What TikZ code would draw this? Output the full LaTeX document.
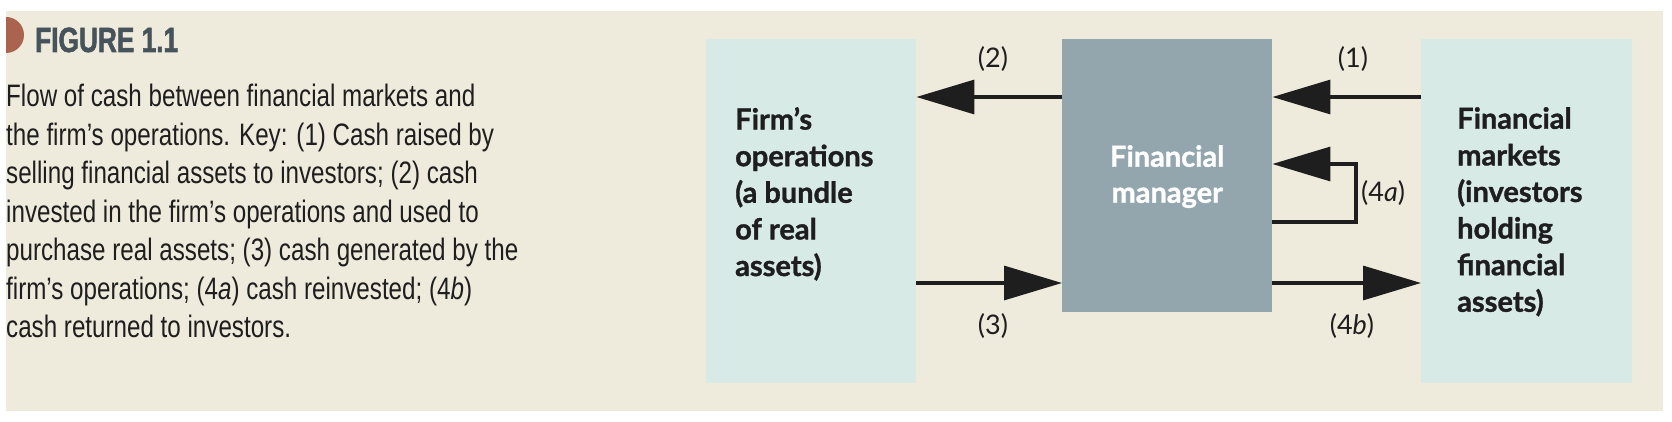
\documentclass[tikz,border=0pt]{standalone}
\usepackage{fontspec}
\usetikzlibrary{arrows.meta}
\setmainfont{Lato}
\newfontfamily\cellfont[BoldFeatures={FakeBold=1.2}]{Lato}
\newfontfamily\keyfont[FakeStretch=0.78]{Liberation Sans}
\newfontfamily\figfont[FakeStretch=0.75, BoldFeatures={FakeBold=1.5}]{Liberation Sans}
\definecolor{pagebeige}{HTML}{EEEADC}
\definecolor{cellblue}{HTML}{D7EAE6}
\definecolor{mgrgrey}{HTML}{93A6AE}
\definecolor{dotred}{HTML}{A9634F}
\definecolor{figslate}{HTML}{47535B}
\definecolor{inkblack}{HTML}{1E1E1E}
\begin{document}
\begin{tikzpicture}[x=1pt, y=-1pt,
  cell/.style={shape=rectangle, inner sep=0pt, anchor=north west},
  celltext/.style={inner sep=0pt, anchor=north west, align=left, text=inkblack,
    font=\cellfont\fontsize{29}{36.6}\selectfont\bfseries},
  flow/.style={draw=inkblack, line width=3.2pt, -{Triangle[length=58pt, width=34pt]}},
  lbl/.style={inner sep=0pt, text=inkblack, font=\fontsize{27}{30}\selectfont}]
\useasboundingbox (0,0) rectangle (1672,422);
\fill[white] (0,0) rectangle (1672,422);
\fill[pagebeige] (6,11) rectangle (1663,411);
% caption
\begin{scope}
\clip (6,0) rectangle (40,60);
\fill[dotred] (6,35) circle (18);
\end{scope}
\node[inner sep=0pt, anchor=base west, text=figslate, font=\figfont\fontsize{35}{40}\selectfont\bfseries] (fig) at (35,52) {FIGURE 1.1};
\node[inner sep=0pt, anchor=north west, align=left, text=inkblack, font=\keyfont\fontsize{31}{38.5}\selectfont] (key) at (6,84)
  {Flow of cash between financial markets and\\
   the firm’s operations. Key: (1) Cash raised by\\
   selling financial assets to investors; (2) cash\\
   invested in the firm’s operations and used to\\
   purchase real assets; (3) cash generated by the\\
   firm’s operations; (4\textit{a}) cash reinvested; (4\textit{b})\\
   cash returned to investors.};
% boxes
\node[cell, fill=cellblue, minimum width=210pt, minimum height=344pt] (firm) at (706,39) {};
\node[cell, fill=mgrgrey, minimum width=210pt, minimum height=273pt] (mgr) at (1062,39) {};
\node[cell, fill=cellblue, minimum width=211pt, minimum height=344pt] (mkt) at (1421,39) {};
\node[celltext] (firmtxt) at ([xshift=29pt, yshift=-68pt]firm.north west) {Firm’s\\operations\\(a bundle\\of real\\assets)};
\node[celltext] (mkttxt) at ([xshift=36pt, yshift=-68pt]mkt.north west) {Financial\\markets\\(investors\\holding\\financial\\assets)};
\node[inner sep=0pt, anchor=north, align=center, text=white, font=\cellfont\fontsize{29}{36}\selectfont\bfseries] (mgrtxt) at ([yshift=-106pt]mgr.north) {Financial\\manager};
% connectors
\coordinate (upper) at (0,97);
\coordinate (lower) at (0,283);
\coordinate (turn) at (1356,193);
\draw[flow] (mkt.west |- upper) -- (mgr.east |- upper);
\draw[flow] (mgr.west |- upper) -- (firm.east |- upper);
\draw[flow] (firm.east |- lower) -- (mgr.west |- lower);
\draw[flow] (mgr.east |- lower) -- (mkt.west |- lower);
\draw[flow] (mgr.east |- 0,222) -| (turn) |- (mgr.east |- 0,164);
% labels
\node[lbl] (l1) at (1353,59) {(1)};
\node[lbl] (l2) at (993,59) {(2)};
\node[lbl] (l3) at (993,326) {(3)};
\node[lbl, anchor=west] (l4a) at ([xshift=5pt]turn) {(4\textit{a})};
\node[lbl] (l4b) at (1352,326) {(4\textit{b})};
\end{tikzpicture}
\end{document}
